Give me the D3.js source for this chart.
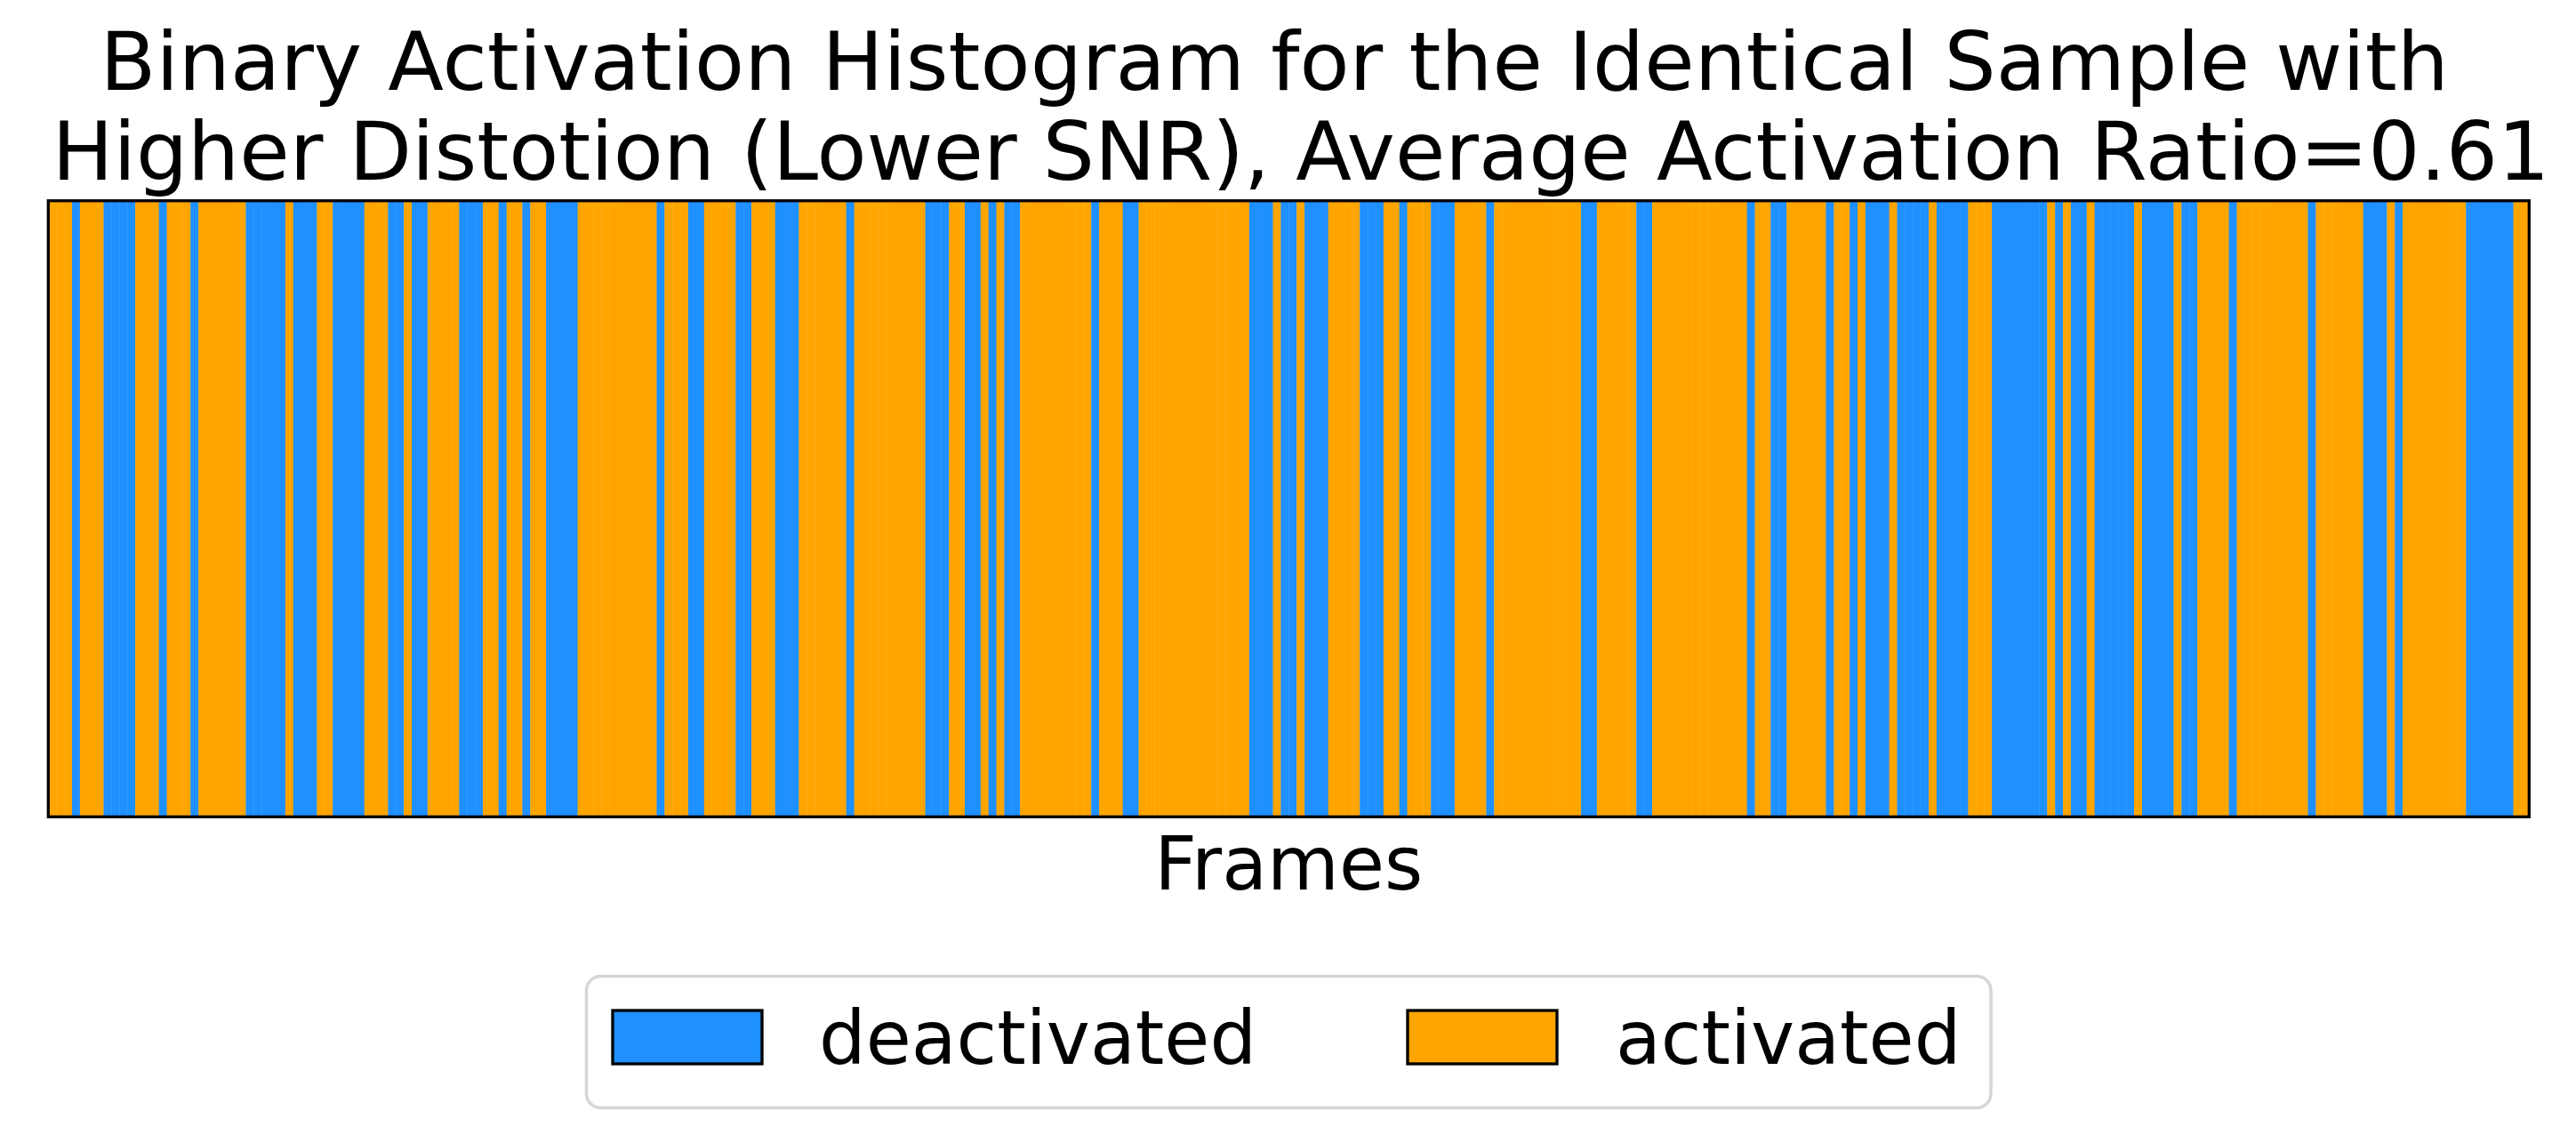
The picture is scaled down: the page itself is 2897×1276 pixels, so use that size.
<!DOCTYPE html>
<html>
<head>
<meta charset="utf-8">
<script src="https://cdn.jsdelivr.net/npm/d3@7/dist/d3.min.js"></script>
<style>
  html, body { margin: 0; padding: 0; background: #ffffff; }
  svg { display: block; }
  text { font-family: "DejaVu Sans", sans-serif; fill: #000; }
</style>
</head>
<body>
<svg id="chart" width="2897" height="1276"></svg>
<script>
// ---- data ----
const titleLines = [
  "Binary Activation Histogram for the Identical Sample with",
  "Higher Distotion (Lower SNR), Average Activation Ratio=0.61"
];
const xLabel = "Frames";
const legendLabels = ["deactivated", "activated"];
const legendStates = [0, 1];
// 1 = activated, 0 = deactivated, one value per frame (314 frames)
const activation = [
  1,1,1,0,1,1,1,0,0,0,0,1,1,1,0,1,1,1,0,1,
  1,1,1,1,1,0,0,0,0,0,1,0,0,0,1,1,0,0,0,0,
  1,1,1,0,0,1,0,0,1,1,1,1,0,0,0,1,1,0,1,1,
  0,1,1,0,0,0,0,1,1,1,1,1,1,1,1,1,1,0,1,1,
  1,0,0,1,1,1,1,0,0,1,1,1,0,0,0,1,1,1,1,1,
  1,0,1,1,1,1,1,1,1,1,1,0,0,0,1,1,0,0,1,0,
  1,0,0,1,1,1,1,1,1,1,1,1,0,1,1,1,0,0,1,1,
  1,1,1,1,1,1,1,1,1,1,1,1,0,0,0,1,0,0,1,0,
  0,0,1,1,1,1,0,0,0,1,1,0,1,1,1,0,0,0,1,1,
  1,1,0,1,1,1,1,1,1,1,1,1,1,1,0,0,1,1,1,1,
  1,0,0,1,1,1,1,1,1,1,1,1,1,1,1,0,1,1,0,0,
  1,1,1,1,1,0,1,1,0,1,0,0,0,1,0,0,0,0,1,0,
  0,0,0,1,1,1,0,0,0,0,0,0,0,1,0,1,0,0,1,0,
  0,0,0,0,1,0,0,0,0,1,0,0,1,1,1,1,0,1,1,1,
  1,1,1,1,1,1,0,1,1,1,1,1,1,0,0,0,1,0,1,1,
  1,1,1,1,1,1,0,0,0,0,0,0,1,1
];

// ---- layout ----
const W = 2897, H = 1276;
const plot = { left: 54.3, right: 2844.3, top: 225.7, bottom: 918.3 };
const colorScale = d3.scaleOrdinal().domain([0, 1]).range(["#1E90FF", "#FFA500"]);

const svg = d3.select("#chart");
svg.append("rect").attr("width", W).attr("height", H).attr("fill", "#ffffff");

const frames = activation.map((v, i) => ({ i, v }));
const x = d3.scaleBand()
  .domain(d3.range(activation.length))
  .range([plot.left, plot.right])
  .paddingInner(0).paddingOuter(0);
const y = d3.scaleLinear().domain([0, 1]).range([plot.bottom, plot.top]);

// bars
svg.append("g")
  .selectAll("rect")
  .data(frames)
  .join("rect")
  .attr("x", d => x(d.i))
  .attr("width", x.bandwidth() + 0.4)
  .attr("y", y(1))
  .attr("height", y(0) - y(1))
  .attr("fill", d => colorScale(d.v));

// frame (spines)
svg.append("rect")
  .attr("x", plot.left).attr("y", plot.top)
  .attr("width", plot.right - plot.left)
  .attr("height", plot.bottom - plot.top)
  .attr("fill", "none")
  .attr("stroke", "#000")
  .attr("stroke-width", 3.3);

// title (each line positioned where its ink sits in the reference)
const cx = (plot.left + plot.right) / 2;
const titleX = [112.5, 58.5];
svg.append("g").selectAll("text")
  .data(titleLines)
  .join("text")
  .attr("x", (d, i) => titleX[i])
  .attr("y", (d, i) => 100.7 + i * 101)
  .attr("text-anchor", "start")
  .attr("font-size", 91.7)
  .text(d => d);

// x label
svg.append("text")
  .attr("x", cx).attr("y", 1000)
  .attr("text-anchor", "middle")
  .attr("font-size", 83)
  .text(xLabel);

// legend
const lg = svg.append("g");
lg.append("rect")
  .attr("x", 659.5).attr("y", 1097.5)
  .attr("width", 2239 - 659.5).attr("height", 1245.5 - 1097.5)
  .attr("rx", 16).attr("ry", 16)
  .attr("fill", "#ffffff")
  .attr("stroke", "#d6d6d6")
  .attr("stroke-width", 3.5);

const patchX = [689, 1583];
const textX = [921, 1817];
legendStates.forEach((s, k) => {
  lg.append("rect")
    .attr("x", patchX[k]).attr("y", 1136)
    .attr("width", 168).attr("height", 60)
    .attr("fill", colorScale(s))
    .attr("stroke", "#000")
    .attr("stroke-width", 3.3);
  lg.append("text")
    .attr("x", textX[k]).attr("y", 1196)
    .attr("font-size", 83)
    .text(legendLabels[k]);
});
</script>
</body>
</html>
